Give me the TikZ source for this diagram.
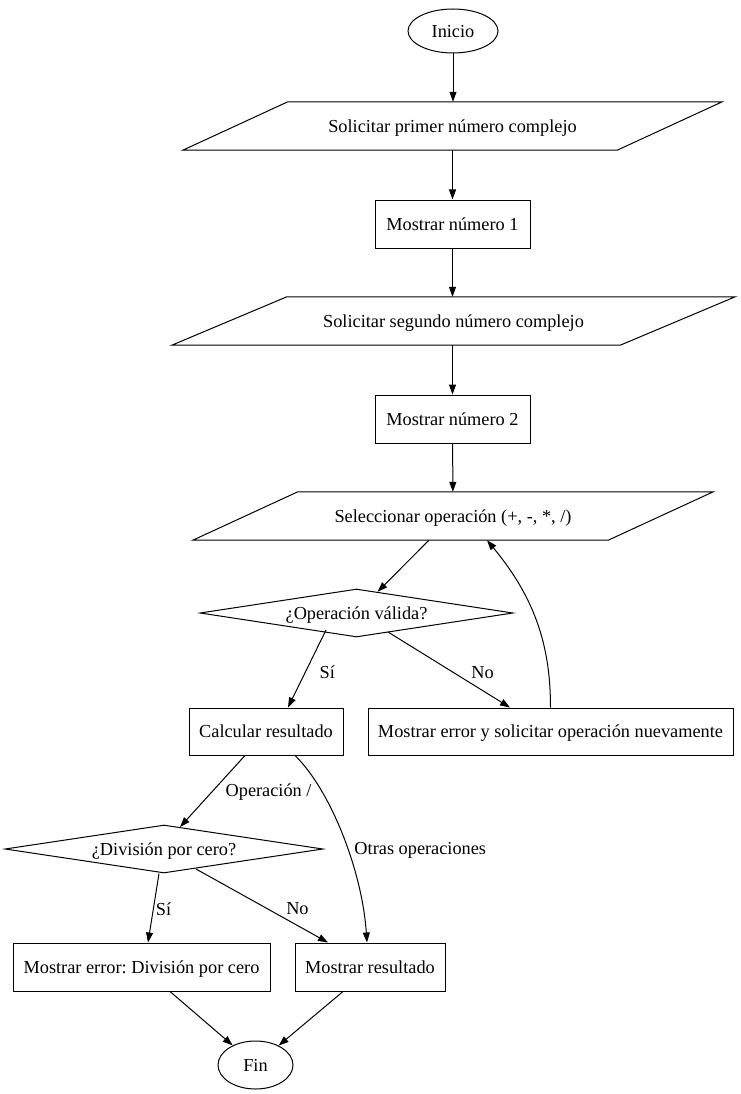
\documentclass[tikz,border=0pt]{standalone}
\usepackage{fontspec}
\setmainfont{Liberation Serif}
\usetikzlibrary{shapes.geometric,arrows.meta,calc}
\frenchspacing
\newcommand\drawpara[2]{%
  \draw[line width=1pt] ([xshift=-#2/2]#1.south west) -- ([xshift=-#2/2]#1.south east)
     -- ([xshift=#2/2]#1.north east) -- ([xshift=#2/2]#1.north west) -- cycle;}
\begin{document}
\begin{tikzpicture}[x=1pt,y=-1pt,
  every node/.style={font=\fontsize{18.3}{22}\selectfont\frenchspacing, inner sep=0pt, text depth=0pt},
  box/.style={draw, line width=1pt, rectangle, minimum height=48pt},
  oval/.style={draw, line width=1pt, ellipse},
  dia/.style={draw, line width=1pt, diamond, aspect=6.5, minimum height=48pt},
  io/.style={rectangle, minimum height=48pt},
  arr/.style={line width=1pt, -{Triangle[length=10pt,width=7pt]}},
  lab/.style={anchor=west}
]
\useasboundingbox (0,0) rectangle (740,1094);

\node[oval, minimum width=90pt, minimum height=44pt] (inicio) at (453,31) {Inicio};
\node[io, minimum width=434pt] (p1) at (452.5,126) {Solicitar primer número complejo};
\node[box, minimum width=155pt] (m1) at (452.5,224) {Mostrar número 1};
\node[io, minimum width=448pt] (p2) at (453.5,321) {Solicitar segundo número complejo};
\node[box, minimum width=155pt] (m2) at (452.5,419) {Mostrar número 2};
\node[io, minimum width=415pt] (p3) at (453,516) {Seleccionar operación (+, -, *, /)};
\node[dia, minimum width=313pt] (d1) at (356.5,613) {¿Operación válida?};
\node[box, minimum width=154pt, minimum height=47pt] (calc) at (266,731.5) {Calcular resultado};
\node[box, minimum width=365pt, minimum height=47pt] (merr) at (550.5,731.5) {Mostrar error y solicitar operación nuevamente};
\node[dia, minimum width=318pt] (d2) at (164,849) {¿División por cero?};
\node[box, minimum width=257pt] (ediv) at (141.5,967) {Mostrar error: División por cero};
\node[box, minimum width=150pt] (mres) at (370,967) {Mostrar resultado};
\node[oval, minimum width=75pt, minimum height=48pt] (fin) at (255.5,1065) {Fin};

\drawpara{p1}{105}
\drawpara{p2}{115}
\drawpara{p3}{105}

\draw[arr] (inicio) -- (p1.north -| inicio);
\draw[arr] (p1) -- (m1);
\draw[arr] (m1.south) -- (m1.south |- p2.north);
\draw[arr] (p2.south -| m2) -- (m2.north);
\draw[arr] (m2) -- (p3);
\draw[arr] (p3) -- (d1);
\draw[arr] ($(d1)+(-30.5,17)$) -- ($(calc.north)+(22,0)$) node[lab,pos=0.55,xshift=14pt]{Sí};
\draw[arr] ($(d1)+(31.5,19)$) -- ($(merr.north)+(-40.5,0)$) node[lab,pos=0.54,xshift=17pt]{No};
\draw[arr] (merr.north) .. controls +(0,-58) and +(50,60) .. ($(p3.south)+(34,0)$);
\draw[arr] ($(calc.south)+(-21,0)$) -- ($(d2)+(16,-22)$) node[lab,pos=0.49,xshift=12pt]{Operación /};
\draw[arr] ($(calc.south)+(29,0)$) .. controls +(35,34) and +(-5,-73) .. ($(mres.north)+(-3,0)$) node[lab,pos=0.57,xshift=6.5pt]{Otras operaciones};
\draw[arr] ($(d2.south)+(-5,0)$) -- ($(ediv.north)+(6.5,0)$) node[lab,pos=0.514,xshift=2pt]{Sí};
\draw[arr] ($(d2)+(32,20)$) -- ($(mres.north)+(-42,0)$) node[lab,pos=0.54,xshift=18.5pt]{No};
\draw[arr] ($(ediv.south)+(28.5,0)$) -- (fin);
\draw[arr] ($(mres.south)+(-27,0)$) -- (fin);
\end{tikzpicture}
\end{document}
